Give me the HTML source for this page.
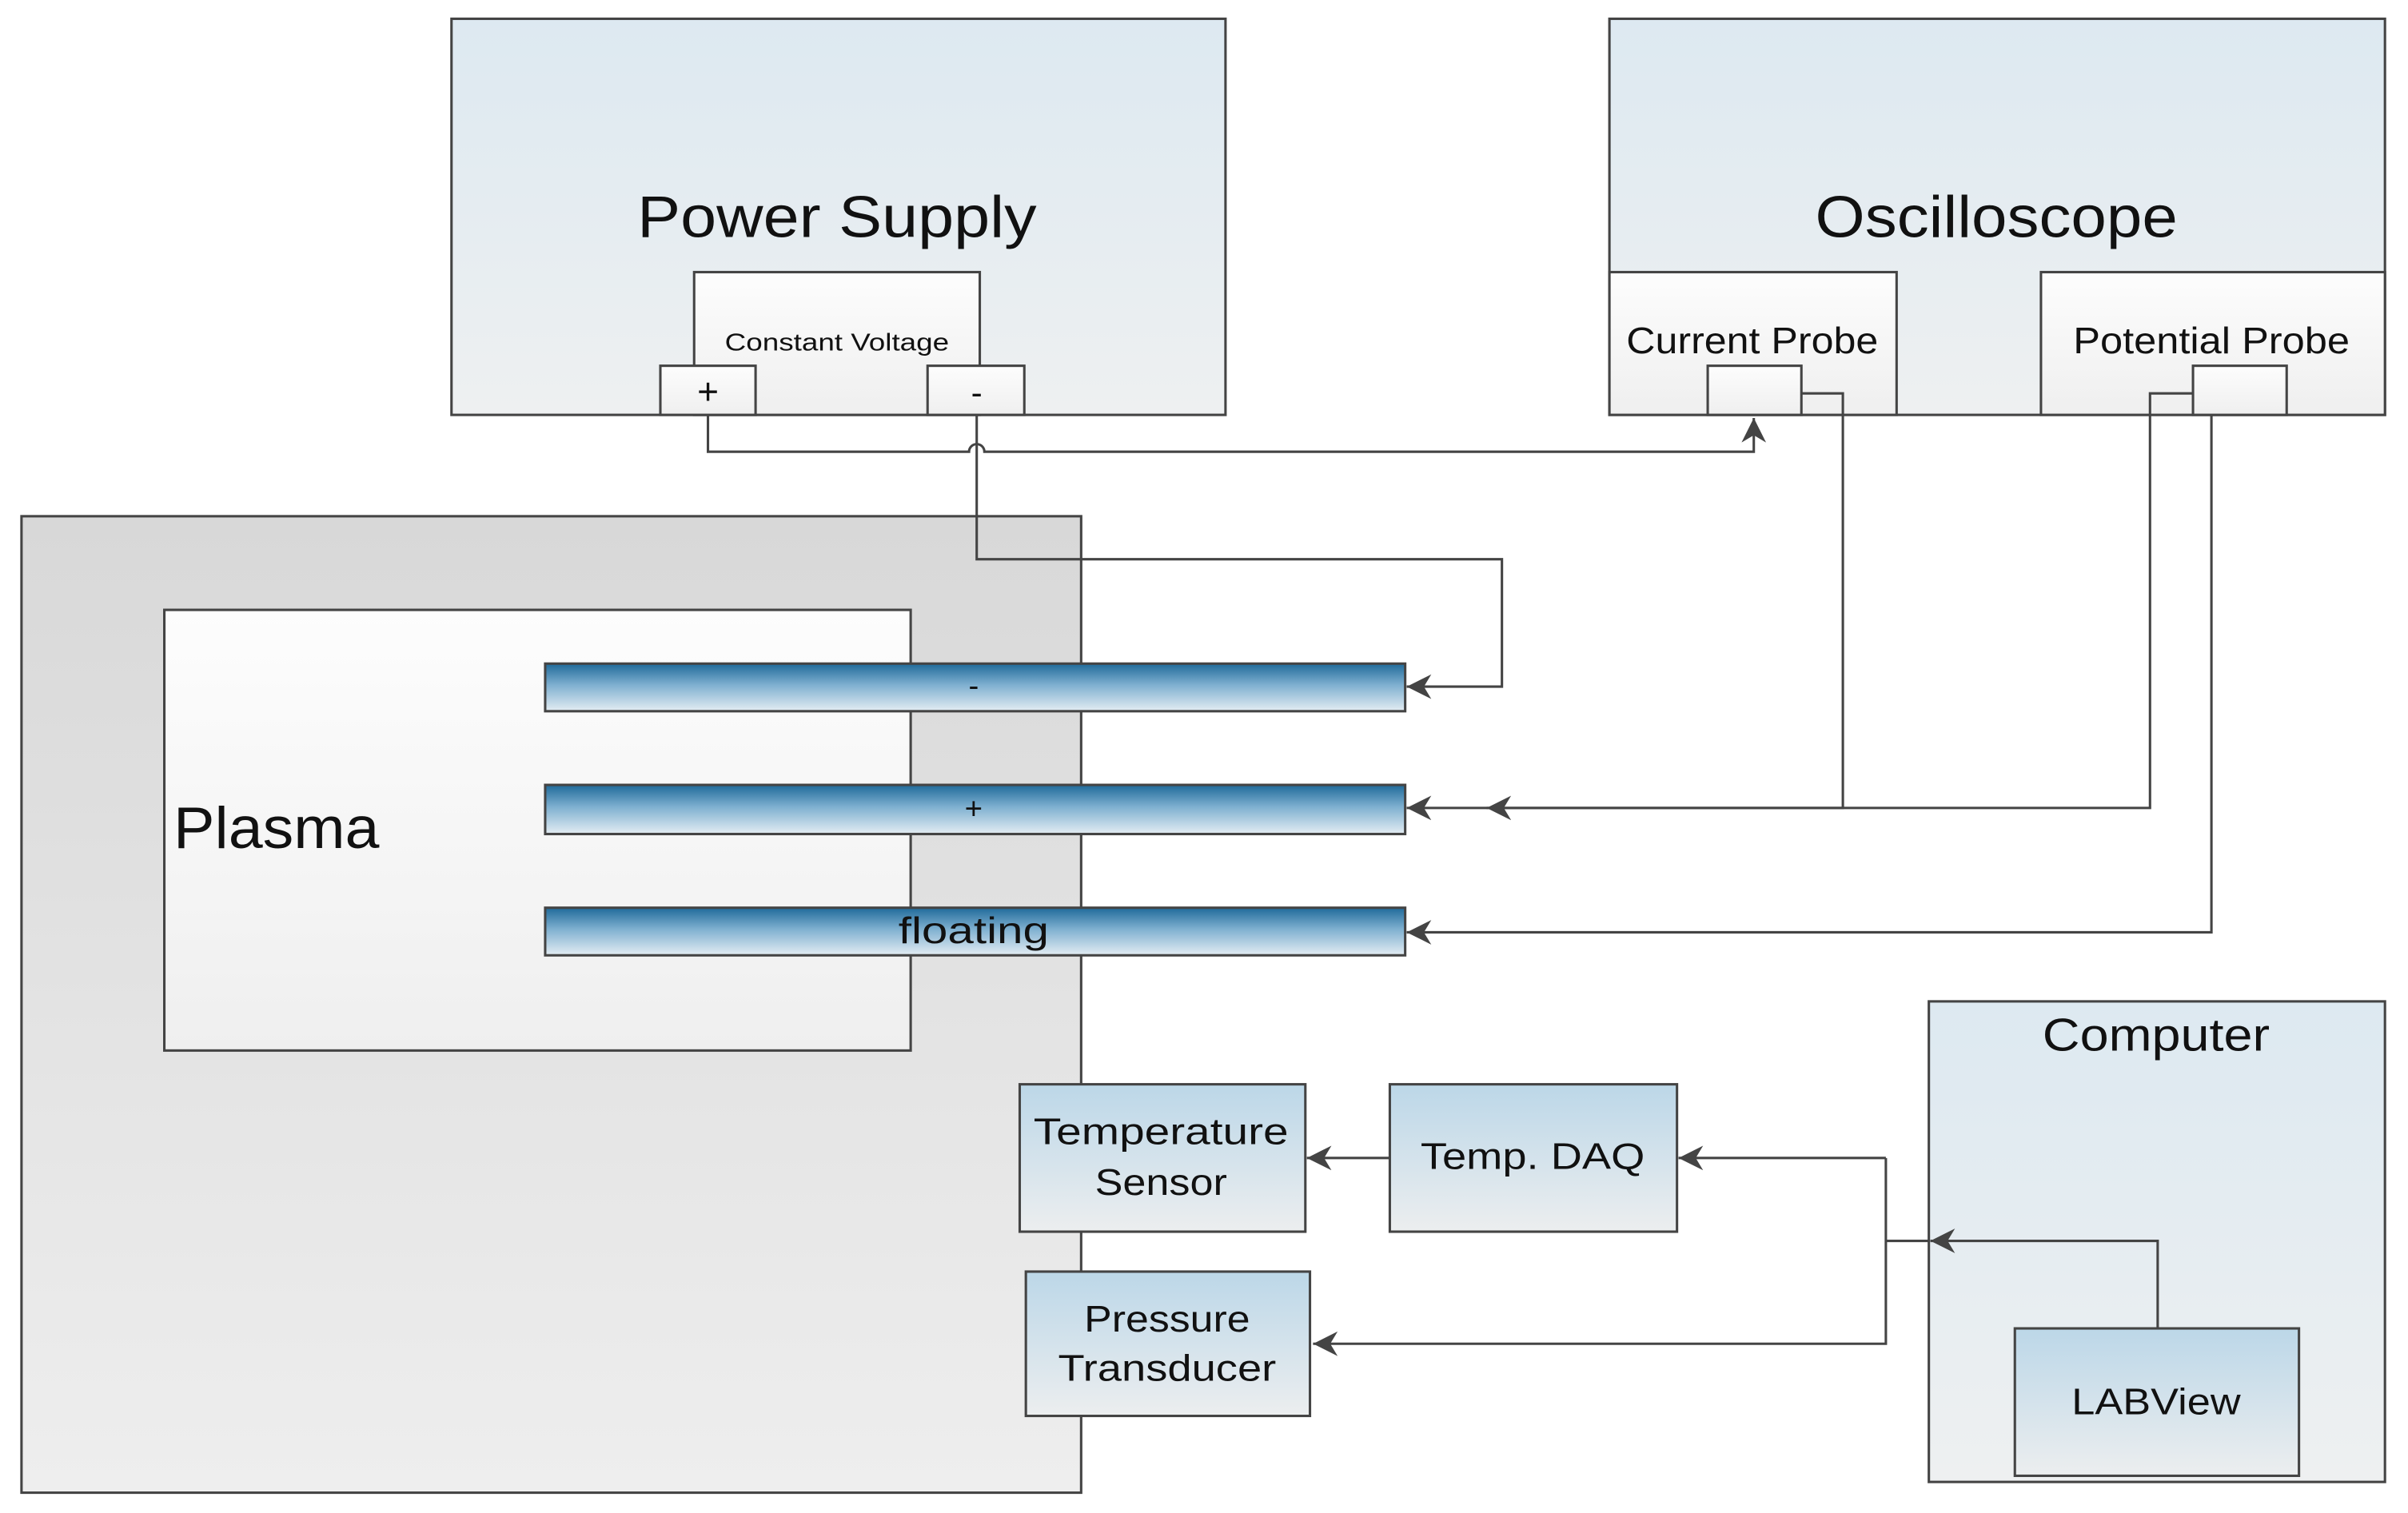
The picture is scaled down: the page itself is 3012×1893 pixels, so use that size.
<!DOCTYPE html>
<html><head><meta charset="utf-8"><style>html,body{margin:0;padding:0;background:#fff}svg{display:block}</style></head>
<body>
<svg width="3012" height="1893" viewBox="0 0 1568 985" xmlns="http://www.w3.org/2000/svg" font-family="Liberation Sans, sans-serif">
<defs>
<linearGradient id="blue" x1="0" y1="0" x2="0" y2="1"><stop offset="0" stop-color="#dde9f1"/><stop offset="1" stop-color="#eef0f1"/></linearGradient>
<linearGradient id="box" x1="0" y1="0" x2="0" y2="1"><stop offset="0" stop-color="#bcd7e8"/><stop offset="1" stop-color="#eceeef"/></linearGradient>
<linearGradient id="white" x1="0" y1="0" x2="0" y2="1"><stop offset="0" stop-color="#fdfdfd"/><stop offset="1" stop-color="#efefef"/></linearGradient>
<linearGradient id="grey" x1="0" y1="0" x2="0" y2="1"><stop offset="0" stop-color="#d8d8d8"/><stop offset="1" stop-color="#eeeeee"/></linearGradient>
<linearGradient id="elec" x1="0" y1="0" x2="0" y2="1"><stop offset="0" stop-color="#1f6a9a"/><stop offset="0.45" stop-color="#7fb0d0"/><stop offset="1" stop-color="#e4edf3"/></linearGradient>
<marker id="ar" viewBox="0 0 10 10" refX="10" refY="5" markerWidth="16" markerHeight="16" markerUnits="userSpaceOnUse" orient="auto"><path d="M0,0 L10,5 L0,10 L3,5 Z" fill="#444"/></marker>
</defs>
<g stroke="#444" stroke-width="1.6">
<rect x="294" y="12" width="504" height="258" fill="url(#blue)"/>
<rect x="452" y="177" width="186" height="93" fill="url(#white)"/>
<rect x="430" y="238" width="62" height="32" fill="url(#white)"/>
<rect x="604" y="238" width="63" height="32" fill="url(#white)"/>
<rect x="1048" y="12" width="505" height="258" fill="url(#blue)"/>
<rect x="1048" y="177" width="187" height="93" fill="url(#white)"/>
<rect x="1329" y="177" width="224" height="93" fill="url(#white)"/>
<rect x="1112" y="238" width="61" height="32" fill="url(#white)"/>
<rect x="1428" y="238" width="61" height="32" fill="url(#white)"/>
<rect x="14" y="336" width="690" height="636" fill="url(#grey)"/>
<rect x="107" y="397" width="486" height="287" fill="url(#white)"/>
<rect x="355" y="432" width="560" height="31" fill="url(#elec)"/>
<rect x="355" y="511" width="560" height="32" fill="url(#elec)"/>
<rect x="355" y="591" width="560" height="31" fill="url(#elec)"/>
<rect x="664" y="706" width="186" height="96" fill="url(#box)"/>
<rect x="905" y="706" width="187" height="96" fill="url(#box)"/>
<rect x="668" y="828" width="185" height="94" fill="url(#box)"/>
<rect x="1256" y="652" width="297" height="313" fill="url(#blue)"/>
<rect x="1312" y="865" width="185" height="96" fill="url(#box)"/>
</g>
<g stroke="#444" stroke-width="1.6" fill="none">
<path d="M461,270 V294 H631 A5,5 0 0 1 641,294 H1142 V272" marker-end="url(#ar)"/>
<path d="M636,270 V364 H978 V447 H916" marker-end="url(#ar)"/>
<path d="M1173,256 H1200 V526 H916" marker-end="url(#ar)"/>
<path d="M1428,256 H1400 V526 H968" marker-end="url(#ar)"/>
<path d="M1440,270 V607 H916" marker-end="url(#ar)"/>
<path d="M905,754 H851" marker-end="url(#ar)"/>
<path d="M1405,865 V808 H1257" marker-end="url(#ar)"/>
<path d="M1256,808 H1228"/>
<path d="M1228,754 H1093" marker-end="url(#ar)"/>
<path d="M1228,754 V875 H855" marker-end="url(#ar)"/>
</g>
<g fill="#111" text-anchor="middle">
<text x="545" y="154" font-size="38" textLength="260" lengthAdjust="spacingAndGlyphs">Power Supply</text>
<text x="545" y="228" font-size="16" textLength="146" lengthAdjust="spacingAndGlyphs">Constant Voltage</text>
<text x="461" y="263" font-size="24">+</text>
<text x="636" y="263" font-size="22">-</text>
<text x="1300" y="154" font-size="38" textLength="236" lengthAdjust="spacingAndGlyphs">Oscilloscope</text>
<text x="1141" y="230" font-size="24" textLength="164" lengthAdjust="spacingAndGlyphs">Current Probe</text>
<text x="1440" y="230" font-size="24" textLength="180" lengthAdjust="spacingAndGlyphs">Potential Probe</text>
<text x="634" y="453" font-size="20">-</text>
<text x="634" y="533" font-size="20">+</text>
<text x="634" y="614" font-size="24" textLength="98" lengthAdjust="spacingAndGlyphs">floating</text>
<text x="180" y="552" font-size="38" textLength="134" lengthAdjust="spacingAndGlyphs">Plasma</text>
<text x="756" y="745" font-size="24" textLength="166" lengthAdjust="spacingAndGlyphs">Temperature</text>
<text x="756" y="778" font-size="24" textLength="86" lengthAdjust="spacingAndGlyphs">Sensor</text>
<text x="998" y="761" font-size="24" textLength="146" lengthAdjust="spacingAndGlyphs">Temp. DAQ</text>
<text x="760" y="867" font-size="24" textLength="108" lengthAdjust="spacingAndGlyphs">Pressure</text>
<text x="760" y="899" font-size="24" textLength="142" lengthAdjust="spacingAndGlyphs">Transducer</text>
<text x="1404" y="684" font-size="30" textLength="148" lengthAdjust="spacingAndGlyphs">Computer</text>
<text x="1404" y="921" font-size="24" textLength="110" lengthAdjust="spacingAndGlyphs">LABView</text>
</g>
</svg>
</body></html>
